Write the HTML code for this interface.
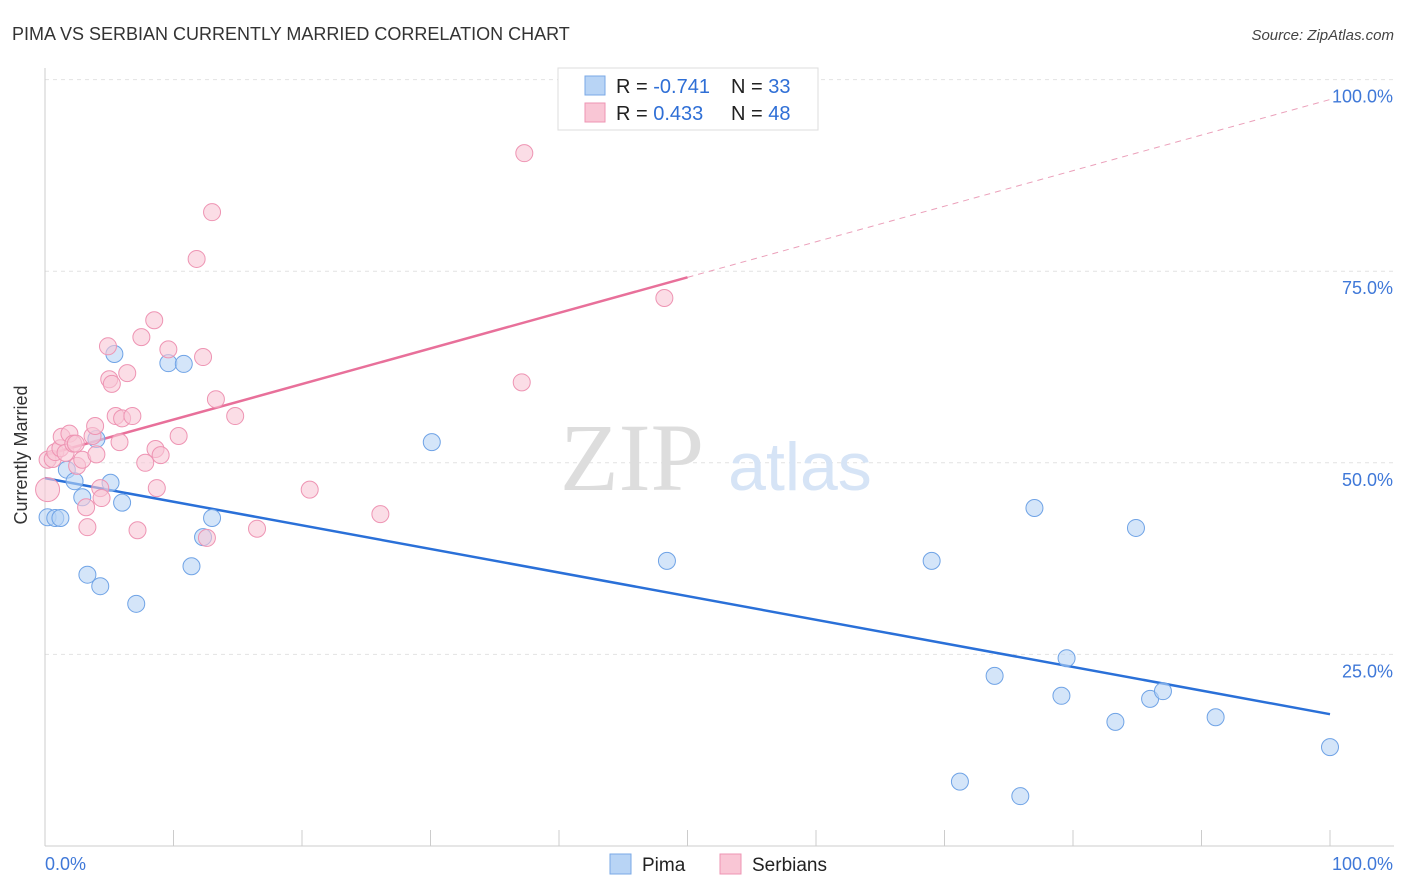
<!DOCTYPE html>
<html><head><meta charset="utf-8"><style>
body{margin:0;background:#fff;font-family:"Liberation Sans",sans-serif}
svg{display:block}
</style></head><body>
<svg id="c" width="1406" height="892" xmlns="http://www.w3.org/2000/svg">
<text x="12" y="40" font-size="18" fill="#333">PIMA VS SERBIAN CURRENTLY MARRIED CORRELATION CHART</text>
<text x="1394" y="40" font-size="15" fill="#444" font-style="italic" text-anchor="end">Source: ZipAtlas.com</text>
<g id="grid"></g>
<text x="632" y="490" font-size="96" fill="#ddd" text-anchor="middle" font-family="Liberation Serif,serif">ZIP</text>
<text x="800" y="490" font-size="68" fill="#d6e4f6" text-anchor="middle">atlas</text>
<g id="axes"></g>
<g id="lines"></g>
<g id="pts"></g>
<text x="27" y="455" font-size="18" fill="#333" text-anchor="middle" transform="rotate(-90 27 455)">Currently Married</text>
<g>
<rect x="558" y="68" width="260" height="62" fill="#fff" stroke="#ddd"/>
<rect x="585" y="76" width="20" height="19" fill="#b8d4f5" stroke="#7aa8e6"/>
<rect x="585" y="103" width="20" height="19" fill="#f9c6d5" stroke="#ee94b3"/>
<text x="616" y="93" font-size="20" fill="#222">R = <tspan fill="#2f6fd6">-0.741</tspan></text>
<text x="731" y="93" font-size="20" fill="#222">N = <tspan fill="#2f6fd6">33</tspan></text>
<text x="616" y="120" font-size="20" fill="#222">R = <tspan fill="#2f6fd6"> 0.433</tspan></text>
<text x="731" y="120" font-size="20" fill="#222">N = <tspan fill="#2f6fd6">48</tspan></text>
</g>
<g>
<rect x="610" y="854" width="21" height="20" fill="#b8d4f5" stroke="#7aa8e6"/>
<text x="642" y="871" font-size="19" fill="#222">Pima</text>
<rect x="720" y="854" width="21" height="20" fill="#f9c6d5" stroke="#ee94b3"/>
<text x="752" y="871" font-size="19" fill="#222">Serbians</text>
</g>
</svg>
<script>
const yTicks=[25,50,75,100];
const yTickLabels=["25.0%","50.0%","75.0%","100.0%"];
const pimaX=[0.2,0.8,1.2,1.7,2.3,2.9,3.3,4.0,4.3,5.1,5.4,6.0,7.1,9.6,10.8,11.4,12.3,13.0,30.1,48.4,69.0,71.2,73.9,75.9,77.0,79.1,79.5,83.3,84.9,86.0,87.0,91.1,100];
const pimaY=[42.9,42.8,42.8,49.1,47.6,45.5,35.4,53.1,33.9,47.4,64.2,44.8,31.6,63.0,62.9,36.5,40.3,42.8,52.7,37.2,37.2,8.4,22.2,6.5,44.1,19.6,24.5,16.2,41.5,19.2,20.2,16.8,12.9];
const serbX=[0.2,0.2,0.6,0.8,1.2,1.3,1.6,1.9,2.2,2.4,2.5,2.9,3.2,3.3,3.7,3.9,4.0,4.3,4.4,4.9,5.0,5.2,5.5,5.8,6.0,6.4,6.8,7.2,7.5,7.8,8.5,8.6,8.7,9.0,9.6,10.4,11.8,12.3,12.6,13.0,13.3,14.8,16.5,20.6,26.1,37.1,37.3,48.2];
const serbY=[46.5,50.4,50.5,51.4,51.9,53.4,51.3,53.8,52.5,52.5,49.6,50.4,44.2,41.6,53.5,54.8,51.1,46.7,45.4,65.2,60.9,60.3,56.1,52.7,55.8,61.7,56.1,41.2,66.4,50.0,68.6,51.8,46.7,51.0,64.8,53.5,76.6,63.8,40.2,82.7,58.3,56.1,41.4,46.5,43.3,60.5,90.4,71.5];
const pimaFit=[48.0,17.2];
const serbFit=[51.0,97.4];
const X=v=>45+v*12.85, Y=v=>846-v*7.664;
const NS="http://www.w3.org/2000/svg";
function mk(tag,attrs,parent){const e=document.createElementNS(NS,tag);for(const k in attrs)e.setAttribute(k,attrs[k]);document.getElementById(parent).appendChild(e);return e;}
yTicks.forEach((t,i)=>{
 const l=mk('line',{x1:45,x2:1394,y1:Y(t),y2:Y(t),stroke:'#e2e2e2','stroke-dasharray':'4,4'},'grid');
 
 
 const tx=mk('text',{x:1393,y:Y(t)+23,'font-size':18,fill:'#3f78d8','text-anchor':'end'},'grid');
 tx.textContent=yTickLabels[i];
 
 
});
mk('line',{x1:45,x2:45,y1:68,y2:846,stroke:'#ccc'},'axes');
mk('line',{x1:45,x2:1394,y1:846,y2:846,stroke:'#ccc'},'axes');
for(let i=0;i<=10;i++){const t=mk('line',{x1:X(i*10),x2:X(i*10),y1:830,y2:846,stroke:'#ccc'},'axes');
 
 }
const a=mk('text',{x:45,y:870,'font-size':18,fill:'#3f78d8'},'axes');a.textContent='0.0%';


const b=mk('text',{x:1393,y:870,'font-size':18,fill:'#3f78d8','text-anchor':'end'},'axes');b.textContent='100.0%';


function pts(xs,ys,fill,stroke,name){xs.forEach((x,i)=>{const c=mk('circle',{cx:X(x),cy:Y(ys[i]),r:(name=='serbians-point'&&i==0)?12:8.5,fill:fill,'fill-opacity':0.6,stroke:stroke,'stroke-width':1},'pts');
 
 });}
pts(pimaX,pimaY,'#b8d4f5','#6fa3e6','pima-point');
pts(serbX,serbY,'#f9c6d5','#ee94b3','serbians-point');
const sm=50;const sv=serbFit[0]+(serbFit[1]-serbFit[0])*sm/100;
const l1=mk('line',{x1:X(0),y1:Y(serbFit[0]),x2:X(sm),y2:Y(sv),stroke:'#e8709a','stroke-width':2.5},'lines');


const l2=mk('line',{x1:X(sm),y1:Y(sv),x2:X(100),y2:Y(serbFit[1]),stroke:'#eba0ba','stroke-width':1,'stroke-dasharray':'6,5'},'lines');


const l3=mk('line',{x1:X(0),y1:Y(pimaFit[0]),x2:X(100),y2:Y(pimaFit[1]),stroke:'#2a70d8','stroke-width':2.5},'lines');


</script>
</body></html>
